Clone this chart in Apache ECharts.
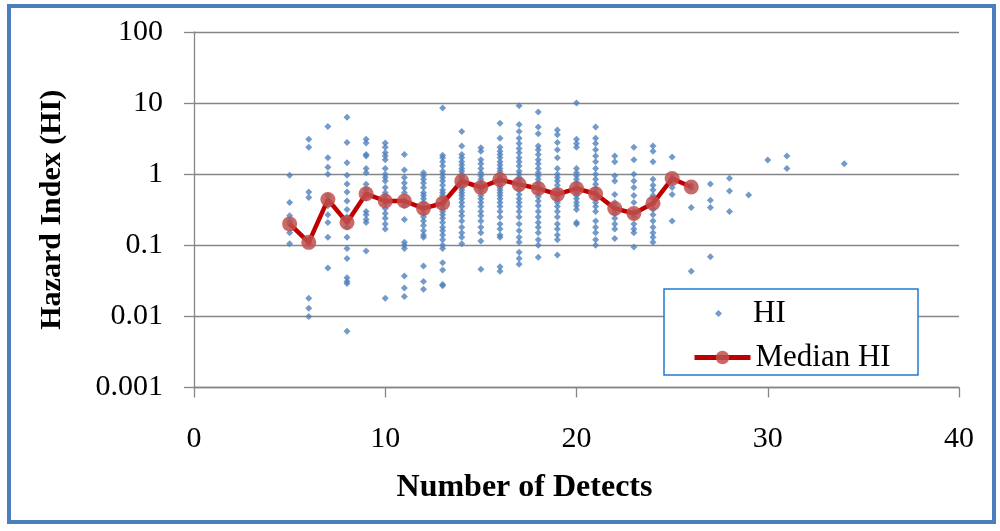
<!DOCTYPE html>
<html>
<head>
<meta charset="utf-8">
<script src="https://cdn.jsdelivr.net/npm/echarts@6/dist/echarts.min.js"></script>
<style>
    html, body { margin: 0; padding: 0; background: #fff; }
    #main { width: 1000px; height: 531px; }
</style>
</head>
<body>
<div id="main"></div>
<script>
// number of detects for each column of HI points
var detectCounts = [5, 6, 7, 8, 9, 10, 11, 12, 13, 14, 15, 16, 17, 18, 19, 20, 21, 22, 23, 24, 25, 26, 27, 28, 29, 30, 31, 34];

// HI values, one list per detect count
var hiValues = [
    [0.97, 0.40, 0.26, 0.22, 0.20, 0.15, 0.105],
    [3.1, 2.4, 0.56, 0.47, 0.12, 0.11, 0.105, 0.018, 0.013, 0.010],
    [4.7, 1.7, 1.25, 1.0, 0.5, 0.43, 0.36, 0.27, 0.21, 0.13, 0.048],
    [6.3, 2.8, 1.45, 0.97, 0.73, 0.56, 0.42, 0.32, 0.25, 0.21, 0.18, 0.13, 0.09, 0.065, 0.035, 0.031, 0.029, 0.0062],
    [3.1, 2.75, 1.9, 1.8, 1.2, 1.05, 0.72, 0.62, 0.55, 0.52, 0.46, 0.30, 0.27, 0.23, 0.21, 0.083],
    [2.75, 2.4, 2.0, 1.8, 1.6, 1.2, 1.0, 0.9, 0.8, 0.65, 0.55, 0.5, 0.45, 0.42, 0.38, 0.33, 0.28, 0.24, 0.2, 0.17, 0.018],
    [1.9, 1.15, 0.9, 0.75, 0.64, 0.55, 0.43, 0.4, 0.36, 0.23, 0.11, 0.1, 0.09, 0.037, 0.025, 0.019],
    [1.05, 0.95, 0.85, 0.75, 0.65, 0.55, 0.5, 0.45, 0.4, 0.35, 0.32, 0.28, 0.25, 0.22, 0.19, 0.16, 0.14, 0.13, 0.051, 0.031, 0.024],
    [8.5, 1.85, 1.7, 1.5, 1.3, 1.1, 1.0, 0.9, 0.8, 0.7, 0.6, 0.55, 0.5, 0.45, 0.4, 0.37, 0.33, 0.3, 0.27, 0.24, 0.21, 0.18, 0.16, 0.14, 0.12, 0.1, 0.09, 0.057, 0.045, 0.028, 0.027],
    [4.0, 2.5, 1.9, 1.7, 1.5, 1.35, 1.2, 1.1, 1.0, 0.95, 0.9, 0.85, 0.8, 0.75, 0.7, 0.65, 0.6, 0.55, 0.5, 0.45, 0.4, 0.35, 0.3, 0.26, 0.22, 0.18, 0.15, 0.13, 0.105],
    [2.35, 2.1, 1.6, 1.4, 1.2, 1.05, 0.95, 0.85, 0.75, 0.7, 0.64, 0.58, 0.5, 0.45, 0.4, 0.35, 0.3, 0.26, 0.22, 0.18, 0.15, 0.115, 0.046],
    [5.2, 3.2, 2.4, 2.1, 1.9, 1.7, 1.5, 1.35, 1.2, 1.1, 1.0, 0.95, 0.9, 0.85, 0.8, 0.75, 0.7, 0.65, 0.6, 0.55, 0.5, 0.45, 0.4, 0.35, 0.3, 0.25, 0.2, 0.17, 0.14, 0.13, 0.05, 0.043],
    [9.2, 5.0, 4.0, 3.2, 2.7, 2.3, 2.0, 1.7, 1.5, 1.3, 1.1, 1.0, 0.9, 0.82, 0.75, 0.68, 0.6, 0.52, 0.45, 0.4, 0.35, 0.3, 0.25, 0.2, 0.16, 0.13, 0.11, 0.08, 0.065, 0.054],
    [7.5, 4.6, 3.7, 2.5, 2.2, 1.9, 1.6, 1.4, 1.2, 1.05, 0.95, 0.85, 0.75, 0.68, 0.62, 0.55, 0.48, 0.42, 0.36, 0.3, 0.25, 0.21, 0.18, 0.15, 0.12, 0.1, 0.068],
    [4.2, 3.6, 2.8, 2.2, 1.7, 1.2, 1.0, 0.9, 0.8, 0.7, 0.6, 0.55, 0.5, 0.45, 0.4, 0.35, 0.3, 0.25, 0.2, 0.17, 0.14, 0.12, 0.073],
    [10, 3.1, 2.7, 2.4, 1.2, 1.05, 0.95, 0.85, 0.75, 0.68, 0.62, 0.55, 0.5, 0.45, 0.4, 0.36, 0.32, 0.21, 0.2],
    [4.6, 3.2, 2.7, 2.2, 1.8, 1.5, 1.2, 1.0, 0.85, 0.72, 0.62, 0.55, 0.5, 0.45, 0.4, 0.35, 0.3, 0.22, 0.18, 0.15, 0.12, 0.1],
    [1.8, 1.5, 0.95, 0.8, 0.52, 0.4, 0.35, 0.32, 0.28, 0.24, 0.2, 0.17, 0.125],
    [2.4, 1.6, 1.0, 0.8, 0.65, 0.5, 0.4, 0.3, 0.25, 0.2, 0.17, 0.15, 0.095],
    [2.5, 2.1, 1.5, 0.85, 0.7, 0.6, 0.5, 0.45, 0.38, 0.32, 0.27, 0.22, 0.18, 0.15, 0.13, 0.11],
    [1.75, 0.9, 0.8, 0.65, 0.52, 0.22],
    [0.7, 0.64, 0.34, 0.043],
    [0.73, 0.43, 0.34, 0.069],
    [0.88, 0.58, 0.30],
    [0.51],
    [1.59],
    [1.8, 1.2],
    [1.4]
];

// median HI line
var medianDetects = [5, 6, 7, 8, 9, 10, 11, 12, 13, 14, 15, 16, 17, 18, 19, 20, 21, 22, 23, 24, 25, 26];
var medianHI = [0.20, 0.11, 0.44, 0.21, 0.53, 0.42, 0.42, 0.33, 0.39, 0.80, 0.65, 0.84, 0.72, 0.63, 0.52, 0.63, 0.53, 0.33, 0.28, 0.39, 0.87, 0.66];

var xTicks = [0, 10, 20, 30, 40];
var yTicks = [0.001, 0.01, 0.1, 1, 10, 100];

var serif = 'Liberation Serif';
var gray = '#868686';

var hiPoints = [];
for (var i = 0; i < detectCounts.length; i++) {
    for (var j = 0; j < hiValues[i].length; j++) {
        hiPoints.push([detectCounts[i], hiValues[i][j]]);
    }
}

var medianPoints = [];
for (var k = 0; k < medianDetects.length; k++) {
    medianPoints.push([medianDetects[k], medianHI[k]]);
}

var myChart = echarts.init(document.getElementById('main'));

var option = {
    animation: false,
    backgroundColor: '#fff',
    grid: { left: 194, right: 41, top: 32, bottom: 143.5, containLabel: false },
    xAxis: {
        type: 'value',
        min: xTicks[0],
        max: xTicks[xTicks.length - 1],
        interval: 10,
        name: 'Number of Detects',
        nameLocation: 'middle',
        nameGap: 84,
        nameTextStyle: { fontFamily: serif, fontSize: 32, fontWeight: 'bold', color: '#000', padding: [0, 104, 0, 0] },
        axisLine: { lineStyle: { color: gray, width: 1.3 } },
        axisTick: { length: 10, lineStyle: { color: gray, width: 1.3 } },
        axisLabel: { margin: 37, fontFamily: serif, fontSize: 30, color: '#000' },
        splitLine: { show: false }
    },
    yAxis: {
        type: 'log',
        logBase: 10,
        min: yTicks[0],
        max: yTicks[yTicks.length - 1],
        name: 'Hazard Index (HI)',
        nameLocation: 'middle',
        nameGap: 127,
        nameTextStyle: { fontFamily: serif, fontSize: 30, fontWeight: 'bold', color: '#000' },
        axisLine: { show: true, lineStyle: { color: gray, width: 1.3 } },
        axisTick: { show: true, length: 10, lineStyle: { color: gray, width: 1.3 } },
        axisLabel: {
            margin: 31, fontFamily: serif, fontSize: 30, color: '#000',
            formatter: function (v) { return String(Number(v.toPrecision(6))); }
        },
        splitLine: { show: true, lineStyle: { color: gray, width: 1.3 } }
    },
    legend: [
        {
            // small diamond, text pushed right to line up with the second row
            data: ['HI'],
            left: 710, top: 293,
            itemWidth: 7, itemHeight: 7,
            textStyle: { fontFamily: serif, fontSize: 31, color: '#000', padding: [0, 0, 0, 26] },
            z: 10
        },
        {
            data: ['Median HI'],
            left: 687, top: 337,
            itemWidth: 56, itemHeight: 17,
            lineStyle: { width: 5, color: '#C00000' },
            textStyle: { fontFamily: serif, fontSize: 31, color: '#000' },
            z: 10
        }
    ],
    graphic: [
        // outer frame
        { type: 'rect', z: 100, silent: true, shape: { x: 9, y: 6, width: 985, height: 516 }, style: { fill: 'none', stroke: '#4A7EBF', lineWidth: 4 } },
        // legend box
        { type: 'rect', z: 5, silent: true, shape: { x: 664, y: 289, width: 254, height: 86 }, style: { fill: '#fff', stroke: '#1E7BD2', lineWidth: 1.5 } }
    ],
    series: [
        {
            name: 'HI',
            type: 'scatter',
            symbol: 'diamond',
            symbolSize: [7, 7],
            itemStyle: { color: '#4F81BD' },
            data: hiPoints,
            z: 2
        },
        {
            name: 'Median HI',
            type: 'line',
            symbol: 'circle',
            symbolSize: 15,
            lineStyle: { color: '#C00000', width: 4.5 },
            itemStyle: { color: 'rgba(192,80,77,0.85)' },
            data: medianPoints,
            z: 3
        }
    ]
};

myChart.setOption(option);
</script>
</body>
</html>
